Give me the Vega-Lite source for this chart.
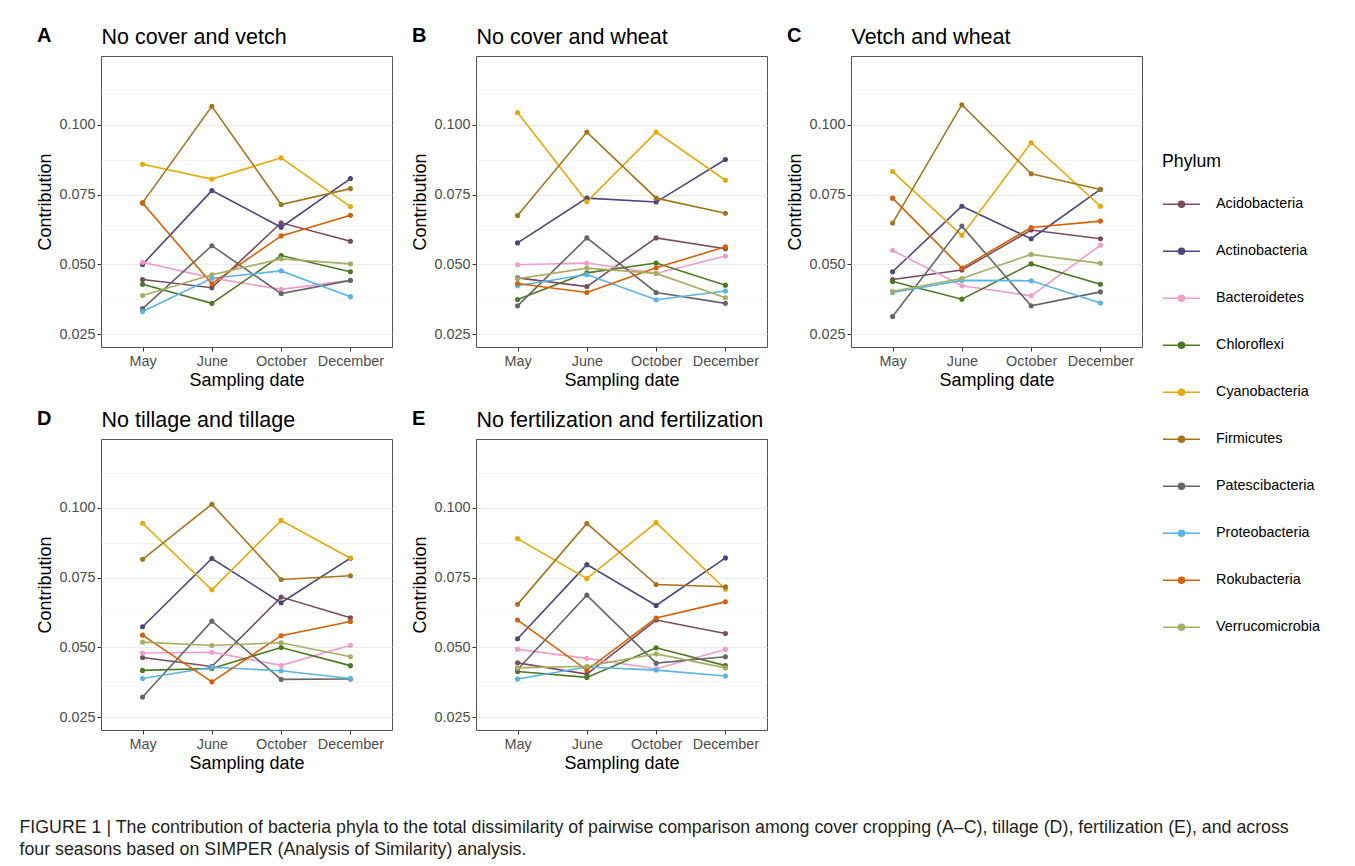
{
"$schema":"https://vega.github.io/schema/vega-lite/v6.json",
"padding":{"left":19,"top":25,"right":0,"bottom":0},
"background":"white",
"title":{"text":["FIGURE 1 | The contribution of bacteria phyla to the total dissimilarity of pairwise comparison among cover cropping (A–C), tillage (D), fertilization (E), and across","four seasons based on SIMPER (Analysis of Similarity) analysis."],"orient":"bottom","anchor":"start","frame":"bounds","font":"Liberation Sans","fontSize":17.8,"fontWeight":"normal","color":"#231F20","lineHeight":22,"offset":46,"dx":-17,"dy":0},
"data":{"values":[
{"panel":"A","phylum":"Acidobacteria","month":"May","value":0.0446},{"panel":"A","phylum":"Acidobacteria","month":"June","value":0.0417},{"panel":"A","phylum":"Acidobacteria","month":"October","value":0.0649},{"panel":"A","phylum":"Acidobacteria","month":"December","value":0.0583},
{"panel":"A","phylum":"Actinobacteria","month":"May","value":0.0500},{"panel":"A","phylum":"Actinobacteria","month":"June","value":0.0764},{"panel":"A","phylum":"Actinobacteria","month":"October","value":0.0633},{"panel":"A","phylum":"Actinobacteria","month":"December","value":0.0807},
{"panel":"A","phylum":"Bacteroidetes","month":"May","value":0.0508},{"panel":"A","phylum":"Bacteroidetes","month":"June","value":0.0452},{"panel":"A","phylum":"Bacteroidetes","month":"October","value":0.0411},{"panel":"A","phylum":"Bacteroidetes","month":"December","value":0.0443},
{"panel":"A","phylum":"Chloroflexi","month":"May","value":0.0429},{"panel":"A","phylum":"Chloroflexi","month":"June","value":0.0361},{"panel":"A","phylum":"Chloroflexi","month":"October","value":0.0532},{"panel":"A","phylum":"Chloroflexi","month":"December","value":0.0474},
{"panel":"A","phylum":"Cyanobacteria","month":"May","value":0.0858},{"panel":"A","phylum":"Cyanobacteria","month":"June","value":0.0805},{"panel":"A","phylum":"Cyanobacteria","month":"October","value":0.0881},{"panel":"A","phylum":"Cyanobacteria","month":"December","value":0.0707},
{"panel":"A","phylum":"Firmicutes","month":"May","value":0.0720},{"panel":"A","phylum":"Firmicutes","month":"June","value":0.1065},{"panel":"A","phylum":"Firmicutes","month":"October","value":0.0714},{"panel":"A","phylum":"Firmicutes","month":"December","value":0.0771},
{"panel":"A","phylum":"Patescibacteria","month":"May","value":0.0342},{"panel":"A","phylum":"Patescibacteria","month":"June","value":0.0567},{"panel":"A","phylum":"Patescibacteria","month":"October","value":0.0396},{"panel":"A","phylum":"Patescibacteria","month":"December","value":0.0443},
{"panel":"A","phylum":"Proteobacteria","month":"May","value":0.0332},{"panel":"A","phylum":"Proteobacteria","month":"June","value":0.0451},{"panel":"A","phylum":"Proteobacteria","month":"October","value":0.0477},{"panel":"A","phylum":"Proteobacteria","month":"December","value":0.0385},
{"panel":"A","phylum":"Rokubacteria","month":"May","value":0.0720},{"panel":"A","phylum":"Rokubacteria","month":"June","value":0.0431},{"panel":"A","phylum":"Rokubacteria","month":"October","value":0.0602},{"panel":"A","phylum":"Rokubacteria","month":"December","value":0.0676},
{"panel":"A","phylum":"Verrucomicrobia","month":"May","value":0.0389},{"panel":"A","phylum":"Verrucomicrobia","month":"June","value":0.0463},{"panel":"A","phylum":"Verrucomicrobia","month":"October","value":0.0520},{"panel":"A","phylum":"Verrucomicrobia","month":"December","value":0.0502},
{"panel":"B","phylum":"Acidobacteria","month":"May","value":0.0452},{"panel":"B","phylum":"Acidobacteria","month":"June","value":0.0421},{"panel":"B","phylum":"Acidobacteria","month":"October","value":0.0595},{"panel":"B","phylum":"Acidobacteria","month":"December","value":0.0556},
{"panel":"B","phylum":"Actinobacteria","month":"May","value":0.0577},{"panel":"B","phylum":"Actinobacteria","month":"June","value":0.0737},{"panel":"B","phylum":"Actinobacteria","month":"October","value":0.0723},{"panel":"B","phylum":"Actinobacteria","month":"December","value":0.0875},
{"panel":"B","phylum":"Bacteroidetes","month":"May","value":0.0499},{"panel":"B","phylum":"Bacteroidetes","month":"June","value":0.0505},{"panel":"B","phylum":"Bacteroidetes","month":"October","value":0.0468},{"panel":"B","phylum":"Bacteroidetes","month":"December","value":0.0530},
{"panel":"B","phylum":"Chloroflexi","month":"May","value":0.0375},{"panel":"B","phylum":"Chloroflexi","month":"June","value":0.0470},{"panel":"B","phylum":"Chloroflexi","month":"October","value":0.0505},{"panel":"B","phylum":"Chloroflexi","month":"December","value":0.0426},
{"panel":"B","phylum":"Cyanobacteria","month":"May","value":0.1043},{"panel":"B","phylum":"Cyanobacteria","month":"June","value":0.0724},{"panel":"B","phylum":"Cyanobacteria","month":"October","value":0.0973},{"panel":"B","phylum":"Cyanobacteria","month":"December","value":0.0801},
{"panel":"B","phylum":"Firmicutes","month":"May","value":0.0675},{"panel":"B","phylum":"Firmicutes","month":"June","value":0.0973},{"panel":"B","phylum":"Firmicutes","month":"October","value":0.0737},{"panel":"B","phylum":"Firmicutes","month":"December","value":0.0683},
{"panel":"B","phylum":"Patescibacteria","month":"May","value":0.0352},{"panel":"B","phylum":"Patescibacteria","month":"June","value":0.0595},{"panel":"B","phylum":"Patescibacteria","month":"October","value":0.0400},{"panel":"B","phylum":"Patescibacteria","month":"December","value":0.0361},
{"panel":"B","phylum":"Proteobacteria","month":"May","value":0.0424},{"panel":"B","phylum":"Proteobacteria","month":"June","value":0.0464},{"panel":"B","phylum":"Proteobacteria","month":"October","value":0.0374},{"panel":"B","phylum":"Proteobacteria","month":"December","value":0.0405},
{"panel":"B","phylum":"Rokubacteria","month":"May","value":0.0432},{"panel":"B","phylum":"Rokubacteria","month":"June","value":0.0400},{"panel":"B","phylum":"Rokubacteria","month":"October","value":0.0488},{"panel":"B","phylum":"Rokubacteria","month":"December","value":0.0563},
{"panel":"B","phylum":"Verrucomicrobia","month":"May","value":0.0449},{"panel":"B","phylum":"Verrucomicrobia","month":"June","value":0.0487},{"panel":"B","phylum":"Verrucomicrobia","month":"October","value":0.0468},{"panel":"B","phylum":"Verrucomicrobia","month":"December","value":0.0381},
{"panel":"C","phylum":"Acidobacteria","month":"May","value":0.0446},{"panel":"C","phylum":"Acidobacteria","month":"June","value":0.0480},{"panel":"C","phylum":"Acidobacteria","month":"October","value":0.0623},{"panel":"C","phylum":"Acidobacteria","month":"December","value":0.0592},
{"panel":"C","phylum":"Actinobacteria","month":"May","value":0.0474},{"panel":"C","phylum":"Actinobacteria","month":"June","value":0.0708},{"panel":"C","phylum":"Actinobacteria","month":"October","value":0.0592},{"panel":"C","phylum":"Actinobacteria","month":"December","value":0.0768},
{"panel":"C","phylum":"Bacteroidetes","month":"May","value":0.0550},{"panel":"C","phylum":"Bacteroidetes","month":"June","value":0.0424},{"panel":"C","phylum":"Bacteroidetes","month":"October","value":0.0388},{"panel":"C","phylum":"Bacteroidetes","month":"December","value":0.0569},
{"panel":"C","phylum":"Chloroflexi","month":"May","value":0.0439},{"panel":"C","phylum":"Chloroflexi","month":"June","value":0.0376},{"panel":"C","phylum":"Chloroflexi","month":"October","value":0.0502},{"panel":"C","phylum":"Chloroflexi","month":"December","value":0.0429},
{"panel":"C","phylum":"Cyanobacteria","month":"May","value":0.0832},{"panel":"C","phylum":"Cyanobacteria","month":"June","value":0.0604},{"panel":"C","phylum":"Cyanobacteria","month":"October","value":0.0935},{"panel":"C","phylum":"Cyanobacteria","month":"December","value":0.0708},
{"panel":"C","phylum":"Firmicutes","month":"May","value":0.0648},{"panel":"C","phylum":"Firmicutes","month":"June","value":0.1071},{"panel":"C","phylum":"Firmicutes","month":"October","value":0.0824},{"panel":"C","phylum":"Firmicutes","month":"December","value":0.0768},
{"panel":"C","phylum":"Patescibacteria","month":"May","value":0.0314},{"panel":"C","phylum":"Patescibacteria","month":"June","value":0.0637},{"panel":"C","phylum":"Patescibacteria","month":"October","value":0.0352},{"panel":"C","phylum":"Patescibacteria","month":"December","value":0.0402},
{"panel":"C","phylum":"Proteobacteria","month":"May","value":0.0400},{"panel":"C","phylum":"Proteobacteria","month":"June","value":0.0443},{"panel":"C","phylum":"Proteobacteria","month":"October","value":0.0442},{"panel":"C","phylum":"Proteobacteria","month":"December","value":0.0362},
{"panel":"C","phylum":"Rokubacteria","month":"May","value":0.0737},{"panel":"C","phylum":"Rokubacteria","month":"June","value":0.0487},{"panel":"C","phylum":"Rokubacteria","month":"October","value":0.0632},{"panel":"C","phylum":"Rokubacteria","month":"December","value":0.0655},
{"panel":"C","phylum":"Verrucomicrobia","month":"May","value":0.0404},{"panel":"C","phylum":"Verrucomicrobia","month":"June","value":0.0450},{"panel":"C","phylum":"Verrucomicrobia","month":"October","value":0.0536},{"panel":"C","phylum":"Verrucomicrobia","month":"December","value":0.0504},
{"panel":"D","phylum":"Acidobacteria","month":"May","value":0.0464},{"panel":"D","phylum":"Acidobacteria","month":"June","value":0.0432},{"panel":"D","phylum":"Acidobacteria","month":"October","value":0.0680},{"panel":"D","phylum":"Acidobacteria","month":"December","value":0.0606},
{"panel":"D","phylum":"Actinobacteria","month":"May","value":0.0574},{"panel":"D","phylum":"Actinobacteria","month":"June","value":0.0818},{"panel":"D","phylum":"Actinobacteria","month":"October","value":0.0660},{"panel":"D","phylum":"Actinobacteria","month":"December","value":0.0819},
{"panel":"D","phylum":"Bacteroidetes","month":"May","value":0.0480},{"panel":"D","phylum":"Bacteroidetes","month":"June","value":0.0483},{"panel":"D","phylum":"Bacteroidetes","month":"October","value":0.0436},{"panel":"D","phylum":"Bacteroidetes","month":"December","value":0.0508},
{"panel":"D","phylum":"Chloroflexi","month":"May","value":0.0418},{"panel":"D","phylum":"Chloroflexi","month":"June","value":0.0425},{"panel":"D","phylum":"Chloroflexi","month":"October","value":0.0500},{"panel":"D","phylum":"Chloroflexi","month":"December","value":0.0435},
{"panel":"D","phylum":"Cyanobacteria","month":"May","value":0.0944},{"panel":"D","phylum":"Cyanobacteria","month":"June","value":0.0706},{"panel":"D","phylum":"Cyanobacteria","month":"October","value":0.0954},{"panel":"D","phylum":"Cyanobacteria","month":"December","value":0.0819},
{"panel":"D","phylum":"Firmicutes","month":"May","value":0.0815},{"panel":"D","phylum":"Firmicutes","month":"June","value":0.1012},{"panel":"D","phylum":"Firmicutes","month":"October","value":0.0743},{"panel":"D","phylum":"Firmicutes","month":"December","value":0.0756},
{"panel":"D","phylum":"Patescibacteria","month":"May","value":0.0323},{"panel":"D","phylum":"Patescibacteria","month":"June","value":0.0594},{"panel":"D","phylum":"Patescibacteria","month":"October","value":0.0386},{"panel":"D","phylum":"Patescibacteria","month":"December","value":0.0387},
{"panel":"D","phylum":"Proteobacteria","month":"May","value":0.0389},{"panel":"D","phylum":"Proteobacteria","month":"June","value":0.0429},{"panel":"D","phylum":"Proteobacteria","month":"October","value":0.0417},{"panel":"D","phylum":"Proteobacteria","month":"December","value":0.0389},
{"panel":"D","phylum":"Rokubacteria","month":"May","value":0.0544},{"panel":"D","phylum":"Rokubacteria","month":"June","value":0.0377},{"panel":"D","phylum":"Rokubacteria","month":"October","value":0.0542},{"panel":"D","phylum":"Rokubacteria","month":"December","value":0.0593},
{"panel":"D","phylum":"Verrucomicrobia","month":"May","value":0.0519},{"panel":"D","phylum":"Verrucomicrobia","month":"June","value":0.0507},{"panel":"D","phylum":"Verrucomicrobia","month":"October","value":0.0517},{"panel":"D","phylum":"Verrucomicrobia","month":"December","value":0.0467},
{"panel":"E","phylum":"Acidobacteria","month":"May","value":0.0445},{"panel":"E","phylum":"Acidobacteria","month":"June","value":0.0405},{"panel":"E","phylum":"Acidobacteria","month":"October","value":0.0598},{"panel":"E","phylum":"Acidobacteria","month":"December","value":0.0550},
{"panel":"E","phylum":"Actinobacteria","month":"May","value":0.0531},{"panel":"E","phylum":"Actinobacteria","month":"June","value":0.0796},{"panel":"E","phylum":"Actinobacteria","month":"October","value":0.0650},{"panel":"E","phylum":"Actinobacteria","month":"December","value":0.0820},
{"panel":"E","phylum":"Bacteroidetes","month":"May","value":0.0493},{"panel":"E","phylum":"Bacteroidetes","month":"June","value":0.0461},{"panel":"E","phylum":"Bacteroidetes","month":"October","value":0.0424},{"panel":"E","phylum":"Bacteroidetes","month":"December","value":0.0493},
{"panel":"E","phylum":"Chloroflexi","month":"May","value":0.0414},{"panel":"E","phylum":"Chloroflexi","month":"June","value":0.0393},{"panel":"E","phylum":"Chloroflexi","month":"October","value":0.0499},{"panel":"E","phylum":"Chloroflexi","month":"December","value":0.0435},
{"panel":"E","phylum":"Cyanobacteria","month":"May","value":0.0889},{"panel":"E","phylum":"Cyanobacteria","month":"June","value":0.0746},{"panel":"E","phylum":"Cyanobacteria","month":"October","value":0.0946},{"panel":"E","phylum":"Cyanobacteria","month":"December","value":0.0708},
{"panel":"E","phylum":"Firmicutes","month":"May","value":0.0654},{"panel":"E","phylum":"Firmicutes","month":"June","value":0.0943},{"panel":"E","phylum":"Firmicutes","month":"October","value":0.0725},{"panel":"E","phylum":"Firmicutes","month":"December","value":0.0717},
{"panel":"E","phylum":"Patescibacteria","month":"May","value":0.0421},{"panel":"E","phylum":"Patescibacteria","month":"June","value":0.0687},{"panel":"E","phylum":"Patescibacteria","month":"October","value":0.0444},{"panel":"E","phylum":"Patescibacteria","month":"December","value":0.0467},
{"panel":"E","phylum":"Proteobacteria","month":"May","value":0.0387},{"panel":"E","phylum":"Proteobacteria","month":"June","value":0.0430},{"panel":"E","phylum":"Proteobacteria","month":"October","value":0.0419},{"panel":"E","phylum":"Proteobacteria","month":"December","value":0.0398},
{"panel":"E","phylum":"Rokubacteria","month":"May","value":0.0598},{"panel":"E","phylum":"Rokubacteria","month":"June","value":0.0419},{"panel":"E","phylum":"Rokubacteria","month":"October","value":0.0605},{"panel":"E","phylum":"Rokubacteria","month":"December","value":0.0663},
{"panel":"E","phylum":"Verrucomicrobia","month":"May","value":0.0427},{"panel":"E","phylum":"Verrucomicrobia","month":"June","value":0.0433},{"panel":"E","phylum":"Verrucomicrobia","month":"October","value":0.0477},{"panel":"E","phylum":"Verrucomicrobia","month":"December","value":0.0427}
]},
"columns":3,
"concat":[
{"title":{"text":"A"},"width":291,"height":291,"transform":[{"filter":"datum.panel=='A'"}],
 "encoding":{"x":{"field":"month","type":"ordinal","sort":["May","June","October","December"],"scale":{"type":"point","padding":0.6},"title":"Sampling date","axis":{"orient":"bottom"}},
 "y":{"field":"value","type":"quantitative","scale":{"domain":[0.0205,0.1245],"nice":false,"zero":false},"title":"Contribution","axis":{"orient":"left","values":[0.025,0.05,0.075,0.1],"format":".3f"}},
 "color":{"field":"phylum","type":"nominal","title":"Phylum"}},
 "layer":[{"mark":{"type":"line","strokeWidth":1.6}},
 {"mark":{"type":"point","filled":true,"size":26,"opacity":1},"encoding":{"x":{"field":"month","type":"ordinal","sort":["May","June","October","December"],"scale":{"type":"point","padding":0.6},"axis":{"orient":"top","labels":false,"ticks":false,"domain":false,"grid":false,"title":"No cover and vetch","titleAnchor":"start","titleAlign":"left","titleFontSize":21.5,"titleBaseline":"alphabetic","titlePadding":13}},
 "y":{"field":"value","type":"quantitative","scale":{"domain":[0.0205,0.1245],"nice":false,"zero":false},"axis":{"orient":"right","values":[0.0375,0.0625,0.0875,0.1125],"labels":false,"ticks":false,"domain":false,"title":null,"grid":true,"gridWidth":0.6}}}}],
 "resolve":{"axis":{"x":"independent","y":"independent"}}},
{"title":{"text":"B"},"width":291,"height":291,"transform":[{"filter":"datum.panel=='B'"}],
 "encoding":{"x":{"field":"month","type":"ordinal","sort":["May","June","October","December"],"scale":{"type":"point","padding":0.6},"title":"Sampling date","axis":{"orient":"bottom"}},
 "y":{"field":"value","type":"quantitative","scale":{"domain":[0.0205,0.1245],"nice":false,"zero":false},"title":"Contribution","axis":{"orient":"left","values":[0.025,0.05,0.075,0.1],"format":".3f"}},
 "color":{"field":"phylum","type":"nominal","title":"Phylum"}},
 "layer":[{"mark":{"type":"line","strokeWidth":1.6}},
 {"mark":{"type":"point","filled":true,"size":26,"opacity":1},"encoding":{"x":{"field":"month","type":"ordinal","sort":["May","June","October","December"],"scale":{"type":"point","padding":0.6},"axis":{"orient":"top","labels":false,"ticks":false,"domain":false,"grid":false,"title":"No cover and wheat","titleAnchor":"start","titleAlign":"left","titleFontSize":21.5,"titleBaseline":"alphabetic","titlePadding":13}},
 "y":{"field":"value","type":"quantitative","scale":{"domain":[0.0205,0.1245],"nice":false,"zero":false},"axis":{"orient":"right","values":[0.0375,0.0625,0.0875,0.1125],"labels":false,"ticks":false,"domain":false,"title":null,"grid":true,"gridWidth":0.6}}}}],
 "resolve":{"axis":{"x":"independent","y":"independent"}}},
{"title":{"text":"C"},"width":291,"height":291,"transform":[{"filter":"datum.panel=='C'"}],
 "encoding":{"x":{"field":"month","type":"ordinal","sort":["May","June","October","December"],"scale":{"type":"point","padding":0.6},"title":"Sampling date","axis":{"orient":"bottom"}},
 "y":{"field":"value","type":"quantitative","scale":{"domain":[0.0205,0.1245],"nice":false,"zero":false},"title":"Contribution","axis":{"orient":"left","values":[0.025,0.05,0.075,0.1],"format":".3f"}},
 "color":{"field":"phylum","type":"nominal","title":"Phylum"}},
 "layer":[{"mark":{"type":"line","strokeWidth":1.6}},
 {"mark":{"type":"point","filled":true,"size":26,"opacity":1},"encoding":{"x":{"field":"month","type":"ordinal","sort":["May","June","October","December"],"scale":{"type":"point","padding":0.6},"axis":{"orient":"top","labels":false,"ticks":false,"domain":false,"grid":false,"title":"Vetch and wheat","titleAnchor":"start","titleAlign":"left","titleFontSize":21.5,"titleBaseline":"alphabetic","titlePadding":13}},
 "y":{"field":"value","type":"quantitative","scale":{"domain":[0.0205,0.1245],"nice":false,"zero":false},"axis":{"orient":"right","values":[0.0375,0.0625,0.0875,0.1125],"labels":false,"ticks":false,"domain":false,"title":null,"grid":true,"gridWidth":0.6}}}}],
 "resolve":{"axis":{"x":"independent","y":"independent"}}},
{"title":{"text":"D"},"width":291,"height":291,"transform":[{"filter":"datum.panel=='D'"}],
 "encoding":{"x":{"field":"month","type":"ordinal","sort":["May","June","October","December"],"scale":{"type":"point","padding":0.6},"title":"Sampling date","axis":{"orient":"bottom"}},
 "y":{"field":"value","type":"quantitative","scale":{"domain":[0.0205,0.1245],"nice":false,"zero":false},"title":"Contribution","axis":{"orient":"left","values":[0.025,0.05,0.075,0.1],"format":".3f"}},
 "color":{"field":"phylum","type":"nominal","title":"Phylum"}},
 "layer":[{"mark":{"type":"line","strokeWidth":1.6}},
 {"mark":{"type":"point","filled":true,"size":26,"opacity":1},"encoding":{"x":{"field":"month","type":"ordinal","sort":["May","June","October","December"],"scale":{"type":"point","padding":0.6},"axis":{"orient":"top","labels":false,"ticks":false,"domain":false,"grid":false,"title":"No tillage and tillage","titleAnchor":"start","titleAlign":"left","titleFontSize":21.5,"titleBaseline":"alphabetic","titlePadding":13}},
 "y":{"field":"value","type":"quantitative","scale":{"domain":[0.0205,0.1245],"nice":false,"zero":false},"axis":{"orient":"right","values":[0.0375,0.0625,0.0875,0.1125],"labels":false,"ticks":false,"domain":false,"title":null,"grid":true,"gridWidth":0.6}}}}],
 "resolve":{"axis":{"x":"independent","y":"independent"}}},
{"title":{"text":"E"},"width":291,"height":291,"transform":[{"filter":"datum.panel=='E'"}],
 "encoding":{"x":{"field":"month","type":"ordinal","sort":["May","June","October","December"],"scale":{"type":"point","padding":0.6},"title":"Sampling date","axis":{"orient":"bottom"}},
 "y":{"field":"value","type":"quantitative","scale":{"domain":[0.0205,0.1245],"nice":false,"zero":false},"title":"Contribution","axis":{"orient":"left","values":[0.025,0.05,0.075,0.1],"format":".3f"}},
 "color":{"field":"phylum","type":"nominal","title":"Phylum"}},
 "layer":[{"mark":{"type":"line","strokeWidth":1.6}},
 {"mark":{"type":"point","filled":true,"size":26,"opacity":1},"encoding":{"x":{"field":"month","type":"ordinal","sort":["May","June","October","December"],"scale":{"type":"point","padding":0.6},"axis":{"orient":"top","labels":false,"ticks":false,"domain":false,"grid":false,"title":"No fertilization and fertilization","titleAnchor":"start","titleAlign":"left","titleFontSize":21.5,"titleBaseline":"alphabetic","titlePadding":13}},
 "y":{"field":"value","type":"quantitative","scale":{"domain":[0.0205,0.1245],"nice":false,"zero":false},"axis":{"orient":"right","values":[0.0375,0.0625,0.0875,0.1125],"labels":false,"ticks":false,"domain":false,"title":null,"grid":true,"gridWidth":0.6}}}}],
 "resolve":{"axis":{"x":"independent","y":"independent"}}}
],
"spacing":{"row":92,"column":84},"bounds":"flush",
"resolve":{"scale":{"color":"shared"},"legend":{"color":"shared"}},
"config":{
 "font":"Liberation Sans",
 "view":{"stroke":"#555555","strokeWidth":1},
 "title":{"anchor":"start","frame":"bounds","fontSize":20,"fontWeight":"bold","color":"#000000","dy":24,"offset":0,"font":"Liberation Sans"},
 "axis":{"labelFont":"Liberation Sans","titleFont":"Liberation Sans","labelFontSize":14.4,"titleFontSize":18,"labelColor":"#4D4D4D","titleColor":"#000000","titleFontWeight":"normal","tickColor":"#333333","tickSize":4,"domain":false,"gridColor":"#EBEBEB","gridWidth":1.1,"labelOverlap":false},
 "axisX":{"labelAngle":0,"labelPadding":3,"titlePadding":4},
 "axisY":{"labelPadding":2,"titlePadding":4},
 "range":{"category":["#7A4B5E","#4B4680","#F29CC8","#4A7A21","#E8A900","#A8741A","#666666","#56B4E9","#D95F02","#A6AE62"]},
 "legend":{"orient":"none","legendX":1061,"legendY":97,"padding":0,"titleFontSize":17.7,"titleFontWeight":"normal","titleColor":"#000000","titleFont":"Liberation Sans","labelFont":"Liberation Sans","labelFontSize":14.4,"labelColor":"#000000","symbolType":"M-1,0H1M0.16,0A0.16,0.16,0,1,1,-0.16,0A0.16,0.16,0,1,1,0.16,0Z","symbolSize":1369,"symbolStrokeWidth":1.6,"rowPadding":21,"labelOffset":15,"titlePadding":14}
}
}
